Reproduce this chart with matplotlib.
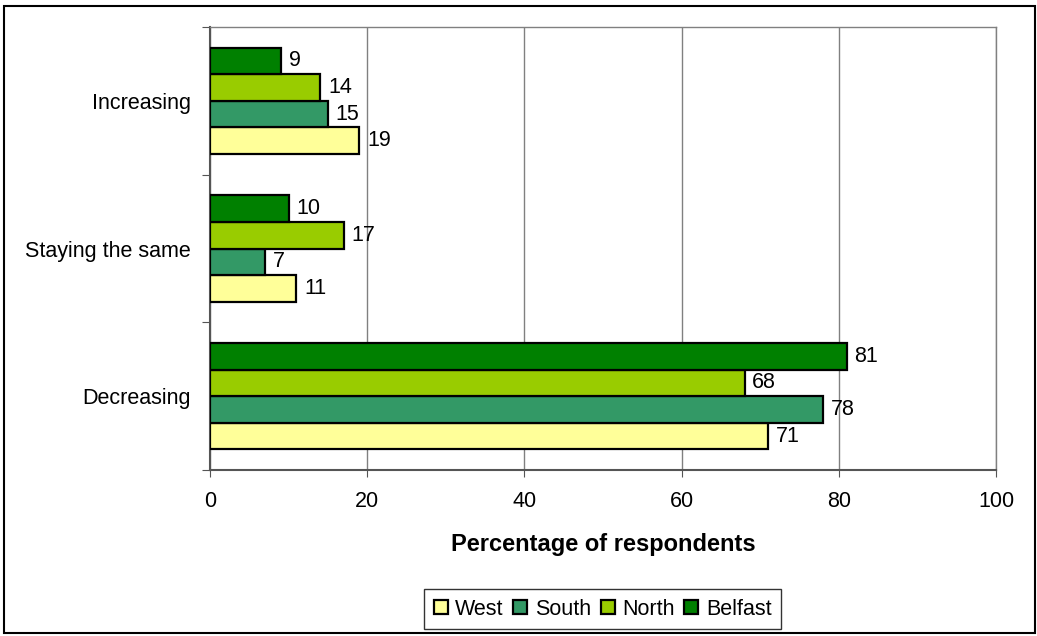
import numpy as np
import matplotlib.pyplot as plt
from matplotlib.patches import Rectangle

plt.rcParams['font.family'] = ['Liberation Sans', 'DejaVu Sans']

categories = ['Decreasing', 'Staying the same', 'Increasing']
regions = ['West', 'South', 'North', 'Belfast']
west = [71, 11, 19]
south = [78, 7, 15]
north = [68, 17, 14]
belfast = [81, 10, 9]
colours = ['#FFFF99', '#339966', '#99CC00', '#008000']

fig = plt.figure(figsize=(10.37, 6.36), dpi=100)
ax = fig.add_axes([0.2025, 0.261, 0.758, 0.6965])

# outer frame round the whole chart
fig.patches.append(Rectangle((0.004, 0.005), 0.994, 0.985, transform=fig.transFigure,
                             fill=False, edgecolor='black', linewidth=1.5))

y = np.arange(len(categories))
h = 0.18
series = [west, south, north, belfast]
for i, (vals, name, col) in enumerate(zip(series, regions, colours)):
    pos = y + (i - 1.5) * h
    bars = ax.barh(pos, vals, height=h, color=col, edgecolor='black',
                   linewidth=1.6, label=name, zorder=3)
    for b, v in zip(bars, vals):
        ax.text(b.get_width() + 1.0, b.get_y() + b.get_height() / 2, str(v),
                va='center', ha='left', fontsize=15.5)

ax.set_xlim(0, 100)
ax.set_ylim(-0.5, 2.5)
ax.set_xticks(range(0, 101, 20))
ax.tick_params(axis='x', labelsize=15.5, length=5, color='#555555', pad=10)
ax.grid(axis='x', color='#808080', linewidth=1, zorder=0)

# category ticks sit on the boundaries between groups
ax.set_yticks([-0.5, 0.5, 1.5, 2.5])
ax.set_yticklabels([])
ax.set_yticks(y, minor=True)
ax.set_yticklabels(categories, minor=True, fontsize=15.5)
ax.tick_params(axis='y', which='major', length=6, color='#555555')
ax.tick_params(axis='y', which='minor', length=0, pad=14)

for s in ['left', 'bottom']:
    ax.spines[s].set_color('#555555')
    ax.spines[s].set_linewidth(1.5)
for s in ['top', 'right']:
    ax.spines[s].set_color('#808080')
    ax.spines[s].set_linewidth(1)

ax.set_xlabel('Percentage of respondents', fontsize=17, fontweight='bold', labelpad=15)

leg = fig.legend(loc='center', bbox_to_anchor=(0.581, 0.042), ncol=4, fontsize=15.5,
                 frameon=True, fancybox=False, edgecolor='black', handlelength=0.65,
                 handleheight=0.65, handletextpad=0.35, columnspacing=0.45,
                 borderpad=0.45, borderaxespad=0)
leg.get_frame().set_linewidth(1)

fig.savefig('out.png', dpi=100)
